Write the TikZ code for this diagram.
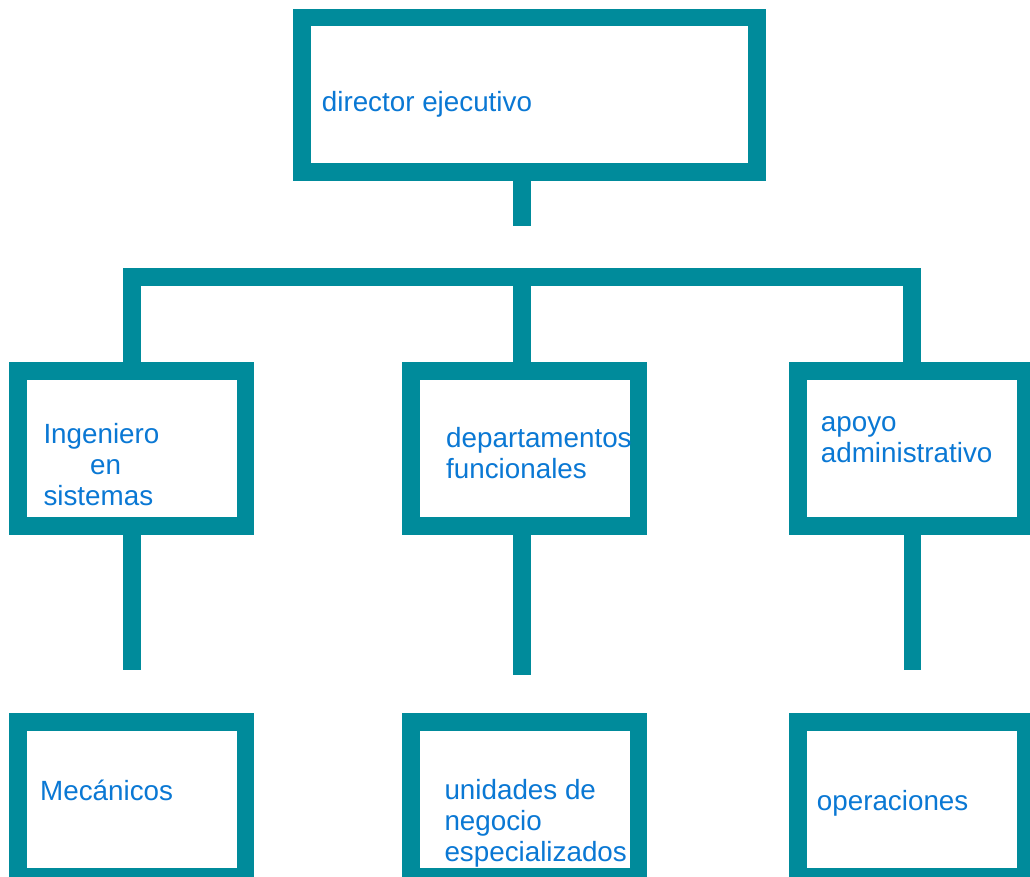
\documentclass[tikz,border=0pt]{standalone}
\usepackage{fontspec}
\setmainfont{Liberation Sans}
\definecolor{orgteal}{RGB}{0,139,155}
\definecolor{orgblue}{RGB}{10,120,212}
\begin{document}
\begin{tikzpicture}[x=1pt,y=-1pt,
  box/.style={draw=orgteal, line width=17.5pt, fill=white, inner sep=0pt,
              minimum width=227.5pt, minimum height=155pt},
  conn/.style={draw=orgteal, line width=17.5pt, line cap=butt, line join=miter},
  lbl/.style={anchor=base west, inner sep=0pt, text=orgblue,
              font=\fontsize{27.8}{31}\selectfont}]
\useasboundingbox (0,0) rectangle (1030,877);
\clip (0,0) rectangle (1030,877);

% boxes
\node[box, minimum width=454.9pt, minimum height=154.5pt] (top) at (529.5,95) {};
\node[box] (L) at (131.8,448.65) {};
\node[box] (M) at (524.8,448.65) {};
\node[box] (R) at (911.8,448.65) {};
\node[box] (LB) at (131.8,799.25) {};
\node[box] (MB) at (524.8,799.25) {};
\node[box] (RB) at (911.8,799.25) {};

% connectors
\coordinate (ts) at (522,225.7);
\draw[conn] (top.south -| ts) -- (ts);
\coordinate (barY) at (0,277);
\draw[conn] (L.north) -- (L.north |- barY) -| (R.north);
\coordinate (barM) at (522,277);
\draw[conn] (barM) -- (M.north -| barM);
\coordinate (Lend) at (131.8,669.7);
\draw[conn] (L.south) -- (Lend);
\coordinate (Mend) at (522,675);
\draw[conn] (M.south -| Mend) -- (Mend);
\coordinate (Rend) at (912.5,669.7);
\draw[conn] (R.south -| Rend) -- (Rend);

% texts
\node[lbl] (tTop) at (321.7,111.7) {director ejecutivo};
\node[lbl] (tL1) at (43.3,443.3) {Ingeniero};
\node[lbl] (tL2) at (90,474.3) {en};
\node[lbl] (tL3) at (43.3,505.7) {sistemas};
\node[lbl] (tM1) at (446,447.3) {departamentos};
\node[lbl] (tM2) at (446,478.3) {funcionales};
\node[lbl] (tR1) at (820.7,431) {apoyo};
\node[lbl] (tR2) at (820.7,462.3) {administrativo};
\node[lbl] (tLB) at (40,800) {Mecánicos};
\node[lbl] (tMB1) at (444.3,799.3) {unidades de};
\node[lbl] (tMB2) at (444.3,830.5) {negocio};
\node[lbl] (tMB3) at (444.3,861.7) {especializados};
\node[lbl] (tRB) at (816.7,810) {operaciones};
\end{tikzpicture}
\end{document}
